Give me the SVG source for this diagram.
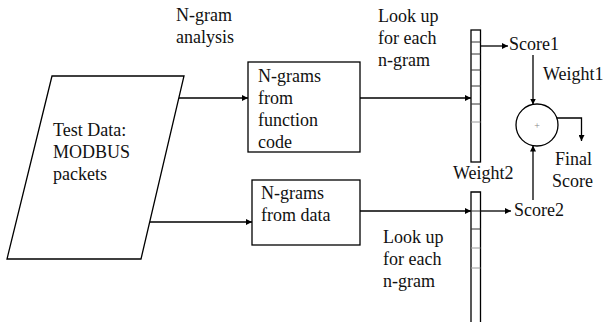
<svg xmlns="http://www.w3.org/2000/svg" width="603" height="322" viewBox="0 0 603 322">
  <style>
    .shape { fill: #ffffff; stroke: #000000; stroke-width: 1.3; }
    .cell { stroke: #333333; stroke-width: 1; }
    .cell-light { stroke: #9a9a9a; stroke-width: 1; }
    .wire { fill: none; stroke: #000000; stroke-width: 1.3; }
    text { font-family: "Liberation Serif", "DejaVu Serif", serif; }
    .label { font-size: 18px; fill: #111111; }
    .plus { font-size: 10px; fill: #888888; }
  </style>
  <defs>
    <marker id="arrow" viewBox="0 0 10 10" refX="10" refY="5" markerWidth="6" markerHeight="6" markerUnits="userSpaceOnUse" orient="auto">
      <path d="M0,0 L10,5 L0,10 Z" fill="#000000"/>
    </marker>
  </defs>

  <!-- input data -->
  <g id="test-data">
    <polygon class="shape" points="52,76 184,76 141,259 7,259"/>
    <text class="label" x="53" y="136">Test Data:</text>
    <text class="label" x="53" y="158">MODBUS</text>
    <text class="label" x="53" y="180">packets</text>
  </g>

  <g id="ngram-label">
    <text class="label" x="176" y="21">N-gram</text>
    <text class="label" x="176" y="43">analysis</text>
  </g>

  <g id="ngrams-function">
    <rect class="shape" x="248" y="62" width="112" height="90"/>
    <text class="label" x="258" y="82">N-grams</text>
    <text class="label" x="258" y="104">from</text>
    <text class="label" x="258" y="126">function</text>
    <text class="label" x="258" y="148">code</text>
  </g>

  <g id="ngrams-data">
    <rect class="shape" x="252" y="180" width="108" height="65"/>
    <text class="label" x="261" y="199">N-grams</text>
    <text class="label" x="261" y="221">from data</text>
  </g>

  <g id="lookup-upper">
    <text class="label" x="378" y="22">Look up</text>
    <text class="label" x="378" y="44">for each</text>
    <text class="label" x="378" y="66">n-gram</text>
  </g>

  <g id="lookup-lower">
    <text class="label" x="383" y="243">Look up</text>
    <text class="label" x="383" y="265">for each</text>
    <text class="label" x="383" y="287">n-gram</text>
  </g>

  <!-- lookup tables -->
  <g id="table-1">
    <rect class="shape" x="471" y="30" width="9.5" height="132"/>
    <line class="cell" x1="471" y1="42" x2="480.5" y2="42"/>
    <line class="cell" x1="471" y1="54" x2="480.5" y2="54"/>
    <line class="cell" x1="471" y1="70" x2="480.5" y2="70"/>
    <line class="cell" x1="471" y1="86" x2="480.5" y2="86"/>
    <line class="cell" x1="471" y1="104" x2="480.5" y2="104"/>
    <line class="cell-light" x1="471" y1="122" x2="480.5" y2="122"/>
  </g>

  <g id="table-2">
    <path class="wire" d="M471,330 V192 H480.5 V330"/>
    <line class="cell" x1="471" y1="211" x2="480.5" y2="211"/>
    <line class="cell" x1="471" y1="229" x2="480.5" y2="229"/>
    <line class="cell-light" x1="471" y1="248" x2="480.5" y2="248"/>
    <line class="cell-light" x1="471" y1="268" x2="480.5" y2="268"/>
  </g>

  <g id="score1">
    <text class="label" x="509" y="50">Score1</text>
  </g>
  <g id="weight1">
    <text class="label" x="543" y="80">Weight1</text>
  </g>
  <g id="weight2">
    <text class="label" x="453" y="179">Weight2</text>
  </g>
  <g id="score2">
    <text class="label" x="514" y="216">Score2</text>
  </g>

  <g id="sum">
    <circle class="shape" cx="537" cy="125" r="21"/>
    <text class="plus" x="537" y="129" text-anchor="middle">+</text>
  </g>

  <g id="final-score">
    <text class="label" x="555" y="165">Final</text>
    <text class="label" x="552" y="187">Score</text>
  </g>

  <!-- connectors -->
  <g id="connectors">
    <line class="wire" x1="179" y1="98" x2="248" y2="98" marker-end="url(#arrow)"/>
    <line class="wire" x1="150" y1="222" x2="252" y2="222" marker-end="url(#arrow)"/>
    <line class="wire" x1="360" y1="98" x2="471" y2="98" marker-end="url(#arrow)"/>
    <line class="wire" x1="360" y1="211" x2="471" y2="211" marker-end="url(#arrow)"/>
    <line class="wire" x1="480.5" y1="46" x2="508" y2="46" marker-end="url(#arrow)"/>
    <line class="wire" x1="480.5" y1="211" x2="511" y2="211" marker-end="url(#arrow)"/>
    <line class="wire" x1="533" y1="55" x2="533" y2="104.5" marker-end="url(#arrow)"/>
    <line class="wire" x1="533" y1="200" x2="533" y2="145.5" marker-end="url(#arrow)"/>
    <path class="wire" d="M556.8,118 H581.5 V141" marker-end="url(#arrow)"/>
  </g>
</svg>
